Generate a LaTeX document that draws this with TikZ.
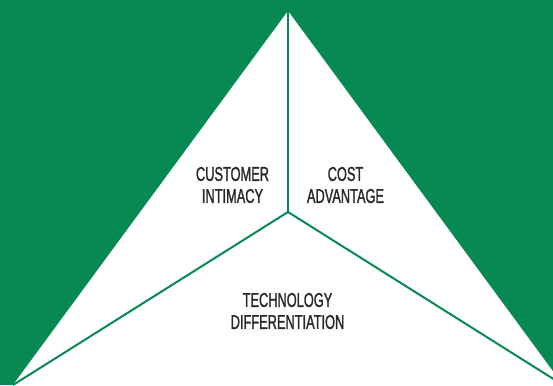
\documentclass[tikz,border=0pt]{standalone}
\usepackage{fontspec}
\newfontfamily\narrowfont[FakeStretch=0.64,FakeBold=1.2]{Liberation Sans}

\begin{document}
\begin{tikzpicture}[x=1pt,y=-1pt]
    \definecolor{strat_green}{RGB}{6,137,82}
    \definecolor{strat_text}{RGB}{40,40,40}
    \tikzset{stratlabel/.style={align=center,inner sep=0pt,text=strat_text,font=\narrowfont\fontsize{20}{22}\selectfont}}
    \useasboundingbox (0,0) rectangle (553,385);
    \clip (0,0) rectangle (553,385);
    \fill[strat_green] (0,0) rectangle (553,385);
    \coordinate (apex) at (288,11);
    \coordinate (lcorner) at (13,385);
    \coordinate (rcorner) at (563,385);
    \coordinate (mid) at (288,212);
    \fill[white] (apex) -- (lcorner) -- (rcorner) -- cycle;
    \draw[strat_green,line width=2pt] (mid) to (apex);
    \draw[strat_green,line width=2pt] (mid) to (lcorner);
    \draw[strat_green,line width=2pt] (mid) to (rcorner);
    \node[stratlabel] (customer) at (232.5,185) {CUSTOMER\\INTIMACY};
    \node[stratlabel] (cost) at (345.5,185) {COST\\ADVANTAGE};
    \node[stratlabel] (tech) at (287.5,311) {TECHNOLOGY\\DIFFERENTIATION};
\end{tikzpicture}
\end{document}
